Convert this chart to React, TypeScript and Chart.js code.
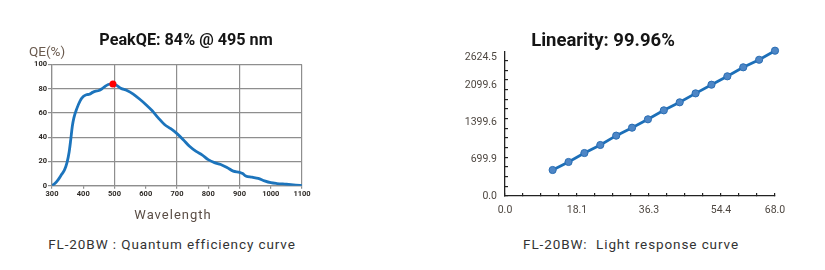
import React, { useEffect, useRef } from "react";
import { Chart, registerables } from "chart.js";

Chart.register(...registerables);

// ---- Quantum efficiency curve data ----
const qeWavelengths = [300, 310, 320, 330, 340, 348, 355, 360, 365, 370, 380, 390, 400, 410, 420, 430, 440, 450, 460, 470, 480, 495, 505, 520, 540, 560, 580, 600, 620, 640, 660, 680, 700, 720, 740, 760, 780, 800, 820, 840, 860, 880, 900, 910, 920, 940, 960, 980, 1000, 1020, 1050, 1080, 1100];
const qeValues = [0, 2, 5, 9, 13, 19, 28, 38, 49, 56, 64, 70, 73.5, 75, 75.5, 77, 78, 78.5, 80, 82, 83.5, 84, 83, 80.5, 78.5, 75.5, 71.5, 67, 62, 56, 50.5, 47, 43, 38, 32.5, 28.5, 25.5, 21.5, 19, 17.5, 15, 12, 11, 10, 8, 7, 6, 4, 2.5, 1.8, 1.2, 0.5, 0];
const peakWavelength = 495;
const peakQE = 84;

// ---- Light response data ----
const lightX = [12, 16, 20, 24, 28, 32, 36, 40, 44, 48, 52, 56, 60, 64, 68];
const lightY = [493, 645, 815, 967, 1144, 1295, 1454, 1624, 1776, 1946, 2110, 2269, 2440, 2583, 2755];
const lightYLabels = [0, 699.9, 1399.6, 2099.6, 2624.5];
const lightYMinorStep = 183.2;
const lightYMinorCount = 14;
const lightXMax = 68;
const lightXDivisions = 15;
const lightXLabelIdx = [0, 4, 8, 12, 15];

function QEChart() {
  const ref = useRef<HTMLCanvasElement>(null);
  useEffect(() => {
    const ctx = ref.current!;
    const chart = new Chart(ctx, {
      type: "line",
      data: {
        datasets: [
          {
            data: [{ x: peakWavelength, y: peakQE }],
            showLine: false,
            pointRadius: 3.5,
            pointBackgroundColor: "#ff0000",
            pointBorderColor: "#ff0000",
            borderWidth: 0,
          },
          {
            data: qeWavelengths.map((w, i) => ({ x: w, y: qeValues[i] })),
            borderColor: "#1c74bc",
            borderWidth: 2.8,
            pointRadius: 0,
            tension: 0.35,
            cubicInterpolationMode: "monotone",
            fill: false,
          },
        ],
      },
      options: {
        responsive: false,
        animation: false,
        devicePixelRatio: 1,
        layout: { padding: { top: 64.5, right: 18, bottom: 24.3, left: 0 } },
        plugins: { legend: { display: false }, tooltip: { enabled: false }, title: { display: false } },
        scales: {
          x: {
            type: "linear",
            min: 300,
            max: 1100,
            afterFit: (s: any) => { s.height = 20; },
            ticks: {
              stepSize: 100,
              autoSkip: false,
              maxRotation: 0,
              padding: 1,
              color: "#2e2a26",
              font: { family: "Roboto", size: 7.5, weight: "bold" },
              callback: (v: any) => String(v),
            },
            grid: {
              color: (c: any) => (c.tick && (c.tick.value - 300) % 200 === 0 ? "#8e8e8e" : "rgba(0,0,0,0)"),
              tickColor: "#8e8e8e",
              tickLength: 3,
              lineWidth: 1.2,
            },
            border: { color: "#8e8e8e", width: 1.2 },
          },
          y: {
            min: 0,
            max: 100,
            afterFit: (s: any) => { s.width = 52; },
            ticks: {
              stepSize: 20,
              padding: 1,
              color: "#2e2a26",
              font: { family: "Roboto", size: 7.5, weight: "bold" },
              callback: (v: any) => String(v),
            },
            grid: { color: "#8e8e8e", tickLength: 4, lineWidth: 1.2 },
            border: { color: "#8e8e8e", width: 1.2 },
          },
        },
      } as any,
    });
    return () => chart.destroy();
  }, []);
  return <canvas ref={ref} width={320} height={230} style={{ position: "absolute", left: 0, top: 0, width: 320, height: 230 }} />;
}

function LightChart() {
  const ref = useRef<HTMLCanvasElement>(null);
  useEffect(() => {
    const ctx = ref.current!;
    const labelSet = lightYLabels;
    const chart = new Chart(ctx, {
      type: "line",
      data: {
        datasets: [
          {
            data: lightX.map((x, i) => ({ x, y: lightY[i] })),
            borderColor: "#1c6fb8",
            borderWidth: 2.8,
            pointRadius: 3.6,
            pointBackgroundColor: "#4d86c6",
            pointBorderColor: "#2a6db3",
            pointBorderWidth: 1,
            tension: 0,
            clip: false,
          },
        ],
      },
      options: {
        responsive: false,
        animation: false,
        devicePixelRatio: 1,
        layout: { padding: { top: 52, right: 50, bottom: 14, left: 0 } },
        plugins: { legend: { display: false }, tooltip: { enabled: false }, title: { display: false } },
        scales: {
          x: {
            type: "linear",
            min: 0,
            max: lightXMax,
            afterFit: (s: any) => { s.height = 20; },
            afterBuildTicks: (s: any) => {
              const t = [];
              for (let k = 0; k <= lightXDivisions; k++) t.push({ value: (k * lightXMax) / lightXDivisions });
              s.ticks = t;
            },
            ticks: {
              autoSkip: false,
              maxRotation: 0,
              padding: 10.7,
              color: "#4e4741",
              font: { family: "Roboto", size: 10.5 },
              callback: (v: any, i: number) => (lightXLabelIdx.includes(i) ? Number(v).toFixed(1) : ""),
            },
            grid: { drawOnChartArea: false, tickLength: -3, tickColor: "#222", lineWidth: 1.2 },
            border: { color: "#222", width: 1.3 },
          },
          y: {
            min: 0,
            max: 2730,
            afterFit: (s: any) => { s.width = 65; },
            afterBuildTicks: (s: any) => {
              const t: any[] = [];
              for (let k = 0; k <= lightYMinorCount; k++) t.push({ value: k * lightYMinorStep, minor: true });
              for (const v of labelSet) if (v !== 0) t.push({ value: v, lbl: true });
              t.sort((a, b) => a.value - b.value);
              s.ticks = t;
            },
            ticks: {
              autoSkip: false,
              padding: 11,
              color: "#4e4741",
              font: { family: "Roboto", size: 10.5 },
              callback: function (this: any, v: any, i: number, ticks: any[]) {
                const t = ticks[i];
                if (t && t.lbl) return Number(v).toFixed(1);
                if (Number(v) === 0) return "0.0";
                return "";
              },
            },
            grid: {
              drawOnChartArea: false,
              tickLength: -3,
              tickColor: (c: any) => (c.tick && c.tick.lbl ? "rgba(0,0,0,0)" : "#222"),
              lineWidth: 1.2,
            },
            border: { color: "#222", width: 1.3 },
          },
        },
      } as any,
    });
    return () => chart.destroy();
  }, []);
  return <canvas ref={ref} width={385} height={230} style={{ position: "absolute", left: 440, top: 0, width: 385, height: 230 }} />;
}

const textBase: React.CSSProperties = { position: "absolute", fontFamily: "Roboto, 'DejaVu Sans', sans-serif", whiteSpace: "pre", textAlign: "center" };

export default function App() {
  return (
    <div style={{ position: "fixed", left: 0, top: 0, width: 825, height: 270, background: "#fff", overflow: "hidden" }}>
      <QEChart />
      <LightChart />
      <div style={{ ...textBase, left: 86, width: 200, top: 30, lineHeight: "20px", fontSize: 16.2, fontWeight: "bold", color: "#151515" }}>PeakQE: 84% @ 495 nm</div>
      <div style={{ ...textBase, left: 503, width: 200, top: 29, lineHeight: "22px", fontSize: 18.5, fontWeight: "bold", color: "#151515" }}>Linearity: 99.96%</div>
      <div style={{ ...textBase, left: 29, width: 44, textAlign: "left", top: 44, lineHeight: "15px", fontSize: 13.5, color: "#6a5a4e" }}>QE(%)</div>
      <div style={{ ...textBase, left: 113, width: 120, top: 207, lineHeight: "16px", fontSize: 13, letterSpacing: 1, color: "#5a4d45" }}>Wavelength</div>
      <div style={{ ...textBase, left: 22, width: 300, top: 236, lineHeight: "16px", fontSize: 13.5, letterSpacing: 0.9, color: "#333" }}>FL-20BW : Quantum efficiency curve</div>
      <div style={{ ...textBase, left: 481, width: 300, top: 236, lineHeight: "16px", fontSize: 13.5, letterSpacing: 0.9, color: "#333" }}>{"FL-20BW:  Light response curve"}</div>
    </div>
  );
}
